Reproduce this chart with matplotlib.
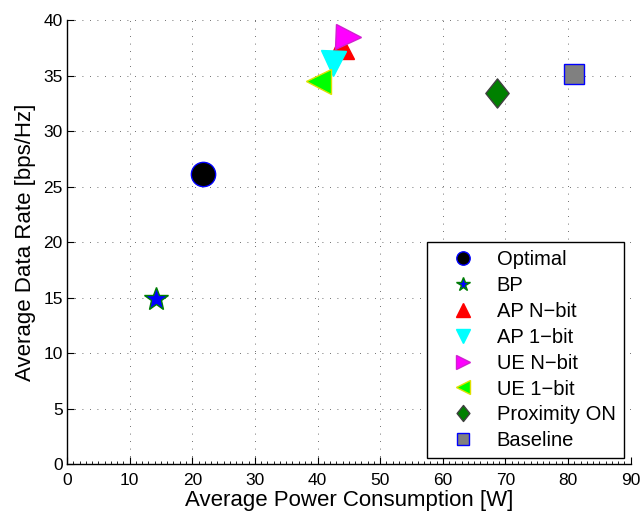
import numpy as np
import matplotlib
matplotlib.use("Agg")
from matplotlib import pyplot as plt
from matplotlib.path import Path
from matplotlib.ticker import MultipleLocator

plt.rcParams["font.family"] = ["Liberation Sans", "DejaVu Sans"]

# Data
labels = ["Optimal", "BP", "AP N\u2212bit", "AP 1\u2212bit", "UE N\u2212bit",
          "UE 1\u2212bit", "Proximity ON", "Baseline"]
power = [21.7, 14.2, 43.8, 42.4, 44.9, 40.1, 68.6, 81.0]
rate = [26.1, 14.85, 37.7, 36.1, 38.5, 34.5, 33.4, 35.1]

# MATLAB-like tall diamond
diamond = Path([(0, 1), (0.8, 0), (0, -1), (-0.8, 0), (0, 1)],
               [Path.MOVETO, Path.LINETO, Path.LINETO, Path.LINETO, Path.CLOSEPOLY])

styles = [
    dict(marker="o", ms=17.5, mfc="black", mec="blue"),
    dict(marker="*", ms=18, mfc="blue", mec="green"),
    dict(marker="^", ms=18, mfc="red", mec="red"),
    dict(marker="v", ms=18, mfc="cyan", mec="cyan"),
    dict(marker=">", ms=18, mfc="magenta", mec="#d020d0"),
    dict(marker="<", ms=18, mfc="#00ff00", mec="#e0e000"),
    dict(marker=diamond, ms=21, mfc="#008000", mec="#404040"),
    dict(marker="s", ms=15, mfc="#808080", mec="blue"),
]

fig = plt.figure(figsize=(6.41, 5.13), dpi=100)
ax = fig.add_axes([0.1045, 0.095, 0.8795, 0.866])

for x, y, lab, st in zip(power, rate, labels, styles):
    ax.plot(x, y, linestyle="none", mew=1.0, label=lab, **st)

ax.set_xlim(0, 90)
ax.set_ylim(0, 40)
ax.xaxis.set_major_locator(MultipleLocator(10))
ax.xaxis.set_minor_locator(MultipleLocator(1))
ax.yaxis.set_major_locator(MultipleLocator(5))
ax.tick_params(axis="both", which="major", direction="in", length=5,
               labelsize=12.5, top=False, right=False)
ax.tick_params(axis="x", which="major", pad=6)
ax.tick_params(axis="y", which="major", pad=3)
ax.tick_params(axis="x", which="minor", direction="in", length=2.5)

for side in ["top", "right"]:
    ax.spines[side].set_visible(False)
for side in ["left", "bottom"]:
    ax.spines[side].set_linewidth(1.0)

ax.grid(True, which="major", linestyle=(0, (1, 8)), color="0.25",
        linewidth=0.6)
ax.set_axisbelow(True)

ax.set_xlabel("Average Power Consumption [W]", fontsize=16, labelpad=2)
ax.set_ylabel("Average Data Rate [bps/Hz]", fontsize=16, labelpad=5)

leg = ax.legend(loc="lower right", fontsize=14.5, markerscale=0.55,
                labelspacing=0.34, handletextpad=0.3, borderpad=0.4,
                handlelength=2.78, borderaxespad=0,
                fancybox=False, edgecolor="black", framealpha=1,
                numpoints=1, bbox_to_anchor=(0.9876, 0.0135))
leg.get_frame().set_linewidth(1.0)

plt.savefig("out.png", dpi=100)
